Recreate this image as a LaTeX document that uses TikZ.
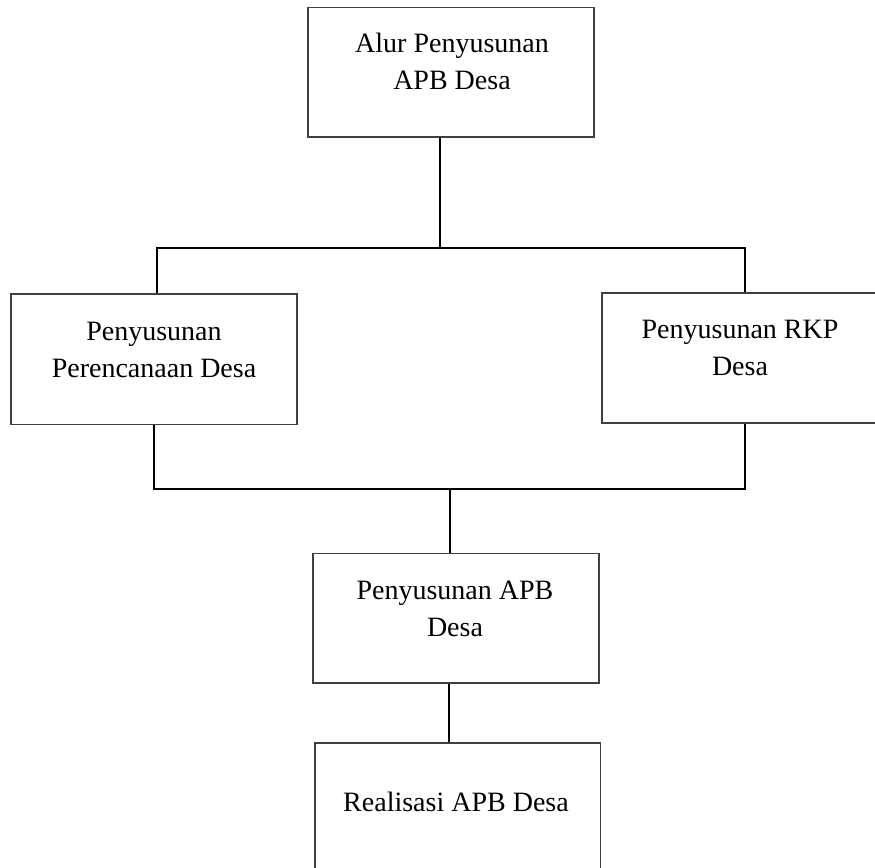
\documentclass[tikz,border=0pt]{standalone}
\usepackage{fontspec}
\setmainfont{Liberation Serif}
\usetikzlibrary{positioning,calc}

\begin{document}
\begin{tikzpicture}[x=0.375pt, y=-0.375pt,
        kotak/.style={draw=black!75, line width=0.4pt, inner sep=0pt},
        teks/.style={font=\fontsize{10.5}{14}\selectfont, align=center, anchor=base, inner sep=0pt},
        garis/.style={line width=0.75pt}]
    \useasboundingbox (0,0) rectangle (875,868);
    % Boxes
    \node[kotak, minimum width=107.25pt, minimum height=48.4pt] (alur) at (451,72.5) {};
    \node[kotak, minimum width=107.25pt, minimum height=49.1pt] (perencanaan) at (154,359.5) {};
    \node[kotak, minimum width=104.25pt, minimum height=48.75pt] (rkp) at (741,358) {};
    \node[kotak, minimum width=107.25pt, minimum height=48.4pt] (apb) at (456,618.5) {};
    \node[kotak, minimum width=106.9pt, minimum height=49.5pt] (realisasi) at (457.5,809) {};
    % Texts (placed on the baseline of the last line)
    \node[teks] (alurteks) at (452,90) {Alur Penyusunan\\APB Desa};
    \node[teks] (perencanaanteks) at (154,378) {Penyusunan\\Perencanaan Desa};
    \node[teks] (rkpteks) at (740,376) {Penyusunan RKP\\Desa};
    \node[teks] (apbteks) at (455,637) {Penyusunan APB\\Desa};
    \node[teks] (realisasiteks) at (456,812) {Realisasi APB Desa};
    % Connectors
    \coordinate (cabang) at (440,248);
    \coordinate (kiri1) at (157,248);
    \coordinate (kanan1) at (745,248);
    \coordinate (gabung) at (450,488);
    \coordinate (kiri2) at (154,489);
    \coordinate (kanan2) at (745,489);
    \coordinate (tengah) at (449,700);
    \draw[garis] (alur.south -| cabang) -- (cabang);
    \draw[garis] (perencanaan.north -| kiri1) |- (kanan1) -- (rkp.north -| kanan1);
    \draw[garis] (perencanaan.south -| kiri2) |- (kanan2) -- (rkp.south -| kanan2);
    \draw[garis] (gabung) -- (apb.north -| gabung);
    \draw[garis] (apb.south -| tengah) -- (realisasi.north -| tengah);
\end{tikzpicture}
\end{document}
